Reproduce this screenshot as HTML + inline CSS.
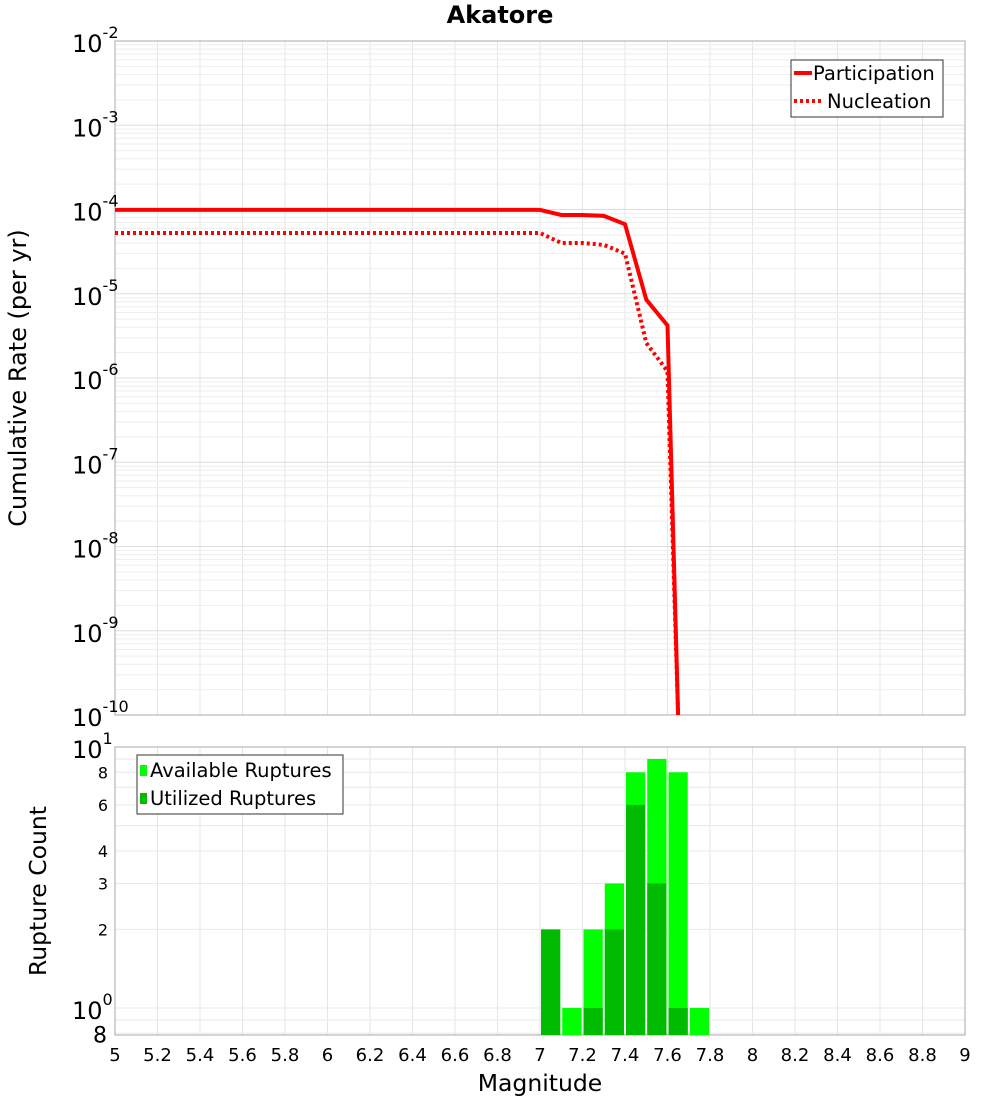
<!DOCTYPE html>
<html><head><meta charset="utf-8"><style>
body{margin:0;background:#fff;font-family:"DejaVu Sans","Liberation Sans",sans-serif}
svg text{font-family:"DejaVu Sans","Liberation Sans",sans-serif}
</style></head><body>
<svg id="c" width="1000" height="1100"></svg>
<script>
const mags=[5,5.1,5.2,5.3,5.4,5.5,5.6,5.7,5.8,5.9,6,6.1,6.2,6.3,6.4,6.5,6.6,6.7,6.8,6.9,7.0,7.1,7.2,7.3,7.4,7.5,7.6,7.65];
const participation=[9.9e-5,9.9e-5,9.9e-5,9.9e-5,9.9e-5,9.9e-5,9.9e-5,9.9e-5,9.9e-5,9.9e-5,9.9e-5,9.9e-5,9.9e-5,9.9e-5,9.9e-5,9.9e-5,9.9e-5,9.9e-5,9.9e-5,9.9e-5,9.9e-5,8.6e-5,8.6e-5,8.4e-5,6.7e-5,8.5e-6,4.2e-6,1e-10];
const nucleation=[5.26e-5,5.26e-5,5.26e-5,5.26e-5,5.26e-5,5.26e-5,5.26e-5,5.26e-5,5.26e-5,5.26e-5,5.26e-5,5.26e-5,5.26e-5,5.26e-5,5.26e-5,5.26e-5,5.26e-5,5.26e-5,5.26e-5,5.26e-5,5.26e-5,4.0e-5,4.0e-5,3.8e-5,3.0e-5,2.6e-6,1.2e-6,1e-10];
const barMags=[7.0,7.1,7.2,7.3,7.4,7.5,7.6,7.7];
const available=[2,1,2,3,8,9,8,1];
const utilized=[2,0,1,2,6,3,1,0];
const xTicks=[5,5.2,5.4,5.6,5.8,6,6.2,6.4,6.6,6.8,7,7.2,7.4,7.6,7.8,8,8.2,8.4,8.6,8.8,9];
const topExps=[-2,-3,-4,-5,-6,-7,-8,-9,-10];
const botTicks=[["10","1",10],["8","",8],["6","",6],["4","",4],["3","",3],["2","",2],["10","0",1],["8","",0.8]];

const S=document.getElementById('c'),NS='http://www.w3.org/2000/svg';
function el(t,a,p){const e=document.createElementNS(NS,t);for(const k in a)e.setAttribute(k,a[k]);(p||S).appendChild(e);return e;}
const L=115,R=965,T1=41,B1=715,T2=747,B2=1035;
const X=v=>L+(v-5)/4*(R-L);
const Y1=v=>T1+(-2-Math.log10(v))*(B1-T1)/8;
const Y2=v=>T2+(1-Math.log10(v))*261;
const g=el('g',{});
for(const t of xTicks){for(const [a,b] of [[T1,B1],[T2,B2]])el('line',{x1:X(t),x2:X(t),y1:a,y2:b,stroke:'#e6e6e6'},g);}
for(let e=-10;e<-2;e++)for(let m=1;m<10;m++){const y=Y1(m*Math.pow(10,e));el('line',{x1:L,x2:R,y1:y,y2:y,stroke:m==1?'#dddddd':'#eeeeee'},g);}
for(const v of [0.8,0.9,1,2,3,4,5,6,7,8,9]){const y=Y2(v);if(y<=B2)el('line',{x1:L,x2:R,y1:y,y2:y,stroke:'#eaeaea'},g);}
let f=el('rect',{x:L,y:T1,width:R-L,height:B1-T1,fill:'none',stroke:'#aaa'});
f=el('rect',{x:L,y:T2,width:R-L,height:B2-T2,fill:'none',stroke:'#aaa'});
const clip=el('clipPath',{id:'cp'});el('rect',{x:L,y:T1,width:R-L,height:B1-T1},clip);
function path(vals){return mags.map((m,i)=>(i?'L':'M')+X(m).toFixed(1)+','+Y1(vals[i]).toFixed(1)).join('');}
let p=el('path',{d:path(participation),fill:'none',stroke:'#ff0000','stroke-width':4,'clip-path':'url(#cp)'});
p=el('path',{d:path(nucleation),fill:'none',stroke:'#ff0000','stroke-width':4,'stroke-dasharray':'3,3','clip-path':'url(#cp)'});
const bw=X(5.1)-X(5);
barMags.forEach((m,i)=>{
 const x=X(m)+1;
 let b=el('rect',{x:x,y:Y2(available[i]),width:bw-2,height:B2-Y2(available[i]),fill:'#00ff00'});
 
 if(utilized[i]>0){b=el('rect',{x:x,y:Y2(utilized[i]),width:bw-2,height:B2-Y2(utilized[i]),fill:'#00bb00'});
 }
});
xTicks.forEach(t=>{const tx=el('text',{x:X(t),y:1061,'text-anchor':'middle','font-size':18});tx.textContent=String(t);});
topExps.forEach(e=>{const y=Y1(Math.pow(10,e));const tx=el('text',{x:72,y:y+11,'font-size':24});tx.textContent='10';const ts=el('tspan',{dy:-14,'font-size':16});ts.textContent=String(e);tx.appendChild(ts);});
botTicks.forEach(([a,s,v])=>{const y=Y2(v);let tx;if(s){tx=el('text',{x:72,y:y+11,'font-size':24});tx.textContent=a;const ts=el('tspan',{dy:-14,'font-size':16});ts.textContent=s;tx.appendChild(ts);}else{tx=el('text',{x:v==0.8?107:108,y:y+(v==0.8?9:6),'text-anchor':'end','font-size':v==0.8?22:16});tx.textContent=a;}});
let t=el('text',{x:500,y:23,'text-anchor':'middle','font-size':24,'font-weight':'bold'});t.textContent='Akatore';
t=el('text',{x:540,y:1091,'text-anchor':'middle','font-size':23.5});t.textContent='Magnitude';
t=el('text',{x:0,y:0,'text-anchor':'middle','font-size':24,transform:'translate(26,378) rotate(-90)'});t.textContent='Cumulative Rate (per yr)';
t=el('text',{x:0,y:0,'text-anchor':'middle','font-size':23.5,transform:'translate(46,891) rotate(-90)'});t.textContent='Rupture Count';
let lg=el('g',{});
el('rect',{x:791,y:60,width:152,height:57,fill:'#fff',stroke:'#333'},lg);
el('line',{x1:794,x2:812,y1:73,y2:73,stroke:'#f00','stroke-width':4},lg);
el('line',{x1:794,x2:822,y1:101,y2:101,stroke:'#f00','stroke-width':4,'stroke-dasharray':'3,3'},lg);
t=el('text',{x:813,y:80,'font-size':19.5},lg);t.textContent='Participation';
t=el('text',{x:827,y:108,'font-size':19.5},lg);t.textContent='Nucleation';
lg=el('g',{});
el('rect',{x:137,y:755,width:206,height:59,fill:'#fff',stroke:'#333'},lg);
el('rect',{x:140,y:765,width:7,height:11,fill:'#00ff00'},lg);
el('rect',{x:140,y:793,width:7,height:11,fill:'#00bb00'},lg);
t=el('text',{x:150,y:777,'font-size':19.5},lg);t.textContent='Available Ruptures';
t=el('text',{x:150,y:805,'font-size':19.5},lg);t.textContent='Utilized Ruptures';
</script></body></html>
